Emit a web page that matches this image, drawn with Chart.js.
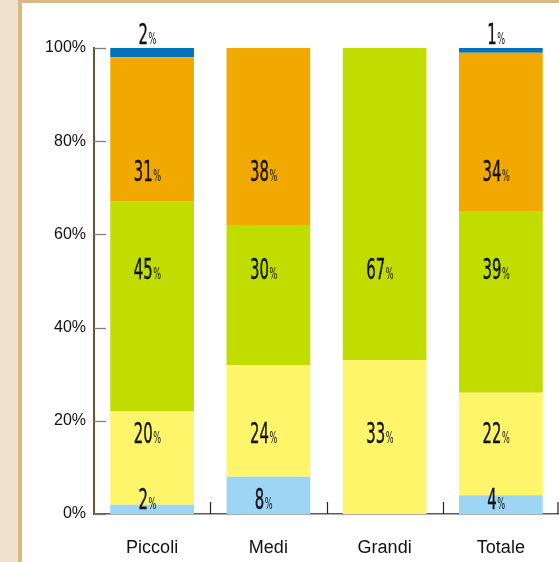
<!DOCTYPE html>
<html>
<head>
<meta charset="utf-8">
<script src="https://cdn.jsdelivr.net/npm/chart.js@4/dist/chart.umd.min.js"></script>
<style>
  html, body { margin: 0; padding: 0; background: #EFE1CB; width: 559px; height: 562px; overflow: hidden; }
  #panel { position: absolute; left: 18px; top: 0; width: 537px; height: 559px; background: #fff;
           border-left: 4px solid #D9B886; border-top: 3px solid #D9B886; }
  #wrap { position: absolute; left: 0; top: 0; width: 559px; height: 562px; }
</style>
</head>
<body>
<div id="panel"></div>
<div id="wrap"><canvas id="c" width="559" height="562"></canvas></div>
<script>
const categories = ['Piccoli', 'Medi', 'Grandi', 'Totale'];
const lightBlue = [2, 8, 0, 4];
const yellow = [20, 24, 33, 22];
const green = [45, 30, 67, 39];
const orange = [31, 38, 0, 34];
const darkBlue = [2, 0, 0, 1];
const yTicks = [0, 20, 40, 60, 80, 100];

const labelPlugin = {
  id: 'segLabels',
  afterDatasetsDraw(chart) {
    const ctx = chart.ctx;
    const ys = chart.scales.y;
    chart.data.datasets.forEach((ds, i) => {
      const meta = chart.getDatasetMeta(i);
      meta.data.forEach((el, j) => {
        const v = ds.data[j];
        if (!v) return;
        const base = ys.getPixelForValue(ds.labelBase);
        const sx = 0.57;
        ctx.save();
        ctx.fillStyle = '#111';
        ctx.strokeStyle = '#111';
        ctx.lineWidth = 0.4;
        ctx.textBaseline = 'alphabetic';
        ctx.textAlign = 'left';
        const numFont = '29px "Liberation Sans Narrow", "DejaVu Sans Condensed", sans-serif';
        const pctFont = '16px "Liberation Sans Narrow", "DejaVu Sans Condensed", sans-serif';
        ctx.font = numFont;
        const wN = ctx.measureText(String(v)).width;
        ctx.font = pctFont;
        const wP = ctx.measureText('%').width;
        const total = (wN + wP) * sx;
        const cx = el.x - 5;
        ctx.translate(cx - total / 2, base);
        ctx.scale(sx, 1);
        ctx.font = numFont;
        ctx.fillText(String(v), 0, 0);
        ctx.strokeText(String(v), 0, 0);
        ctx.font = pctFont;
        ctx.fillText('%', wN + 1, 0);
        ctx.restore();
      });
    });
  }
};

const tickPlugin = {
  id: 'innerTicks',
  afterDraw(chart) {
    const ctx = chart.ctx;
    const xs = chart.scales.x, ys = chart.scales.y;
    ctx.save();
    ctx.lineWidth = 1.3;
    ctx.strokeStyle = '#7d7d7d';
    yTicks.forEach(v => {
      const y = Math.round(ys.getPixelForValue(v)) + 0.5;
      ctx.beginPath();
      ctx.moveTo(xs.left, y);
      ctx.lineTo(xs.left + 12, y);
      ctx.stroke();
    });
    ctx.strokeStyle = '#222';
    ctx.lineWidth = 1.2;
    for (let i = 0; i < categories.length; i++) {
      let x = Math.round(xs.getPixelForValue(i + 0.5)) + 0.5;
      if (x > chart.width - 1) x = chart.width - 1;
      ctx.beginPath();
      ctx.moveTo(x, xs.top - 12);
      ctx.lineTo(x, xs.top);
      ctx.stroke();
    }
    ctx.restore();
  }
};

const mk = (label, data, color, labelBase) => ({
  label, data, backgroundColor: color, borderWidth: 0,
  barPercentage: 0.72, categoryPercentage: 1.0, labelBase
});

new Chart(document.getElementById('c'), {
  type: 'bar',
  data: {
    labels: categories,
    datasets: [
      mk('a', lightBlue, '#9ED4F4', 1.0),
      mk('b', yellow, '#FFF56B', 15.2),
      mk('c', green, '#C1DD00', 50.5),
      mk('d', orange, '#F1A900', 71.5),
      mk('e', darkBlue, '#0073BA', 100.8)
    ]
  },
  options: {
    responsive: false,
    animation: false,
    devicePixelRatio: 1,
    layout: { padding: { top: 48, right: 0, bottom: 0, left: 0 } },
    plugins: { legend: { display: false }, tooltip: { enabled: false } },
    scales: {
      x: {
        stacked: true,
        grid: { display: false, drawTicks: false },
        border: { display: true, color: '#5a5a5a', width: 1.5 },
        ticks: { color: '#111', padding: 23, font: { family: '"Liberation Sans", Arial, sans-serif', size: 18 } },
        afterFit(s) { s.height = 48; }
      },
      y: {
        stacked: true,
        min: 0, max: 100,
        afterBuildTicks(s) { s.ticks = yTicks.map(v => ({ value: v })); },
        grid: { display: false, drawTicks: false },
        border: { display: true, color: '#6B5535', width: 2 },
        ticks: {
          color: '#111', padding: 8,
          font: { family: '"Liberation Sans", Arial, sans-serif', size: 16 },
          callback: v => v + '%'
        },
        afterFit(s) { s.width = 94; }
      }
    }
  },
  plugins: [labelPlugin, tickPlugin]
});
</script>
</body>
</html>
